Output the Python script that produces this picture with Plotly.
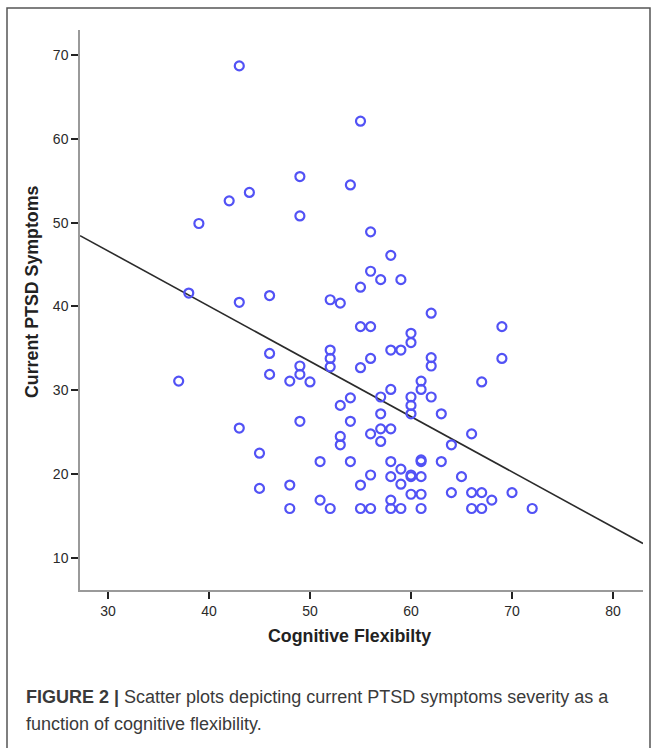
import plotly.graph_objects as go

# Data
cognitive_flexibility = [
    43, 55, 49, 54, 44, 42, 49, 39, 56, 58, 56, 57, 59, 55, 38, 46, 43, 52, 53, 62,
    55, 56, 69, 60, 60, 52, 58, 59, 46, 52, 56, 62, 69, 52, 55, 62, 49, 49, 46, 37,
    48, 50, 61, 67, 61, 58, 54, 57, 60, 62, 53, 60, 57, 60, 63, 49, 54, 43, 57, 58,
    56, 66, 53, 53, 57, 64, 45, 51, 54, 58, 61, 61, 63, 59, 56, 58, 60, 60, 61, 65,
    45, 48, 55, 59, 60, 61, 64, 66, 67, 70, 51, 58, 68, 48, 52, 55, 56, 58, 59, 61,
    66, 67, 72,
]
ptsd_symptoms = [
    68.7, 62.1, 55.5, 54.5, 53.6, 52.6, 50.8, 49.9, 48.9, 46.1, 44.2, 43.2, 43.2, 42.3, 41.6, 41.3, 40.5, 40.8, 40.4, 39.2,
    37.6, 37.6, 37.6, 36.8, 35.7, 34.8, 34.8, 34.8, 34.4, 33.8, 33.8, 33.9, 33.8, 32.8, 32.7, 32.9, 32.9, 31.9, 31.9, 31.1,
    31.1, 31.0, 31.1, 31.0, 30.1, 30.1, 29.1, 29.2, 29.2, 29.2, 28.2, 28.2, 27.2, 27.2, 27.2, 26.3, 26.3, 25.5, 25.4, 25.4,
    24.8, 24.8, 24.5, 23.5, 23.9, 23.5, 22.5, 21.5, 21.5, 21.5, 21.5, 21.7, 21.5, 20.6, 19.9, 19.7, 19.9, 19.7, 19.7, 19.7,
    18.3, 18.7, 18.7, 18.8, 17.6, 17.6, 17.8, 17.8, 17.8, 17.8, 16.9, 16.9, 16.9, 15.9, 15.9, 15.9, 15.9, 15.9, 15.9, 15.9,
    15.9, 15.9, 15.9,
]
x_ticks = [30, 40, 50, 60, 70, 80]
y_ticks = [10, 20, 30, 40, 50, 60, 70]
x_range = [27.23, 82.97]
y_range = [6.18, 72.98]
fit_intercept = 66.4
fit_slope = -0.659

fit_x = list(x_range)
fit_y = [fit_intercept + fit_slope * v for v in fit_x]

fig = go.Figure()
fig.add_trace(go.Scatter(
    x=fit_x, y=fit_y, mode="lines",
    line=dict(color="#2b2b2b", width=1.6),
    hoverinfo="skip", showlegend=False,
))
fig.add_trace(go.Scatter(
    x=cognitive_flexibility, y=ptsd_symptoms, mode="markers",
    marker=dict(symbol="circle-open", size=9, color="#5252f5",
                line=dict(width=2.2, color="#5252f5")),
    showlegend=False,
))

axis_font = dict(family="Liberation Sans, Arial, sans-serif", size=14, color="#2a2a2a")
fig.update_xaxes(
    range=x_range, tickvals=x_ticks, ticktext=[str(t) for t in x_ticks],
    showgrid=False, zeroline=False, showline=True, linecolor="#9a9a9a", linewidth=1.5,
    ticks="outside", ticklen=7, tickwidth=2, tickcolor="#222222",
    tickfont=axis_font, mirror=False,
)
fig.update_yaxes(
    range=y_range, tickvals=y_ticks, ticktext=[str(t) for t in y_ticks],
    showgrid=False, zeroline=False, showline=True, linecolor="#9a9a9a", linewidth=1.5,
    ticks="outside", ticklen=7, tickwidth=2, tickcolor="#222222",
    tickfont=axis_font, mirror=False,
)

title_font = dict(family="Liberation Sans, Arial, sans-serif", size=17.8, color="#222222")
caption_font = dict(family="Liberation Sans, Arial, sans-serif", size=18, color="#3a3a3a")
annotations = [
    dict(text="<b>Cognitive Flexibilty</b>", xref="paper", yref="paper",
         x=(349 - 80) / 563, y=(590 - 636) / 560, xanchor="center", yanchor="middle",
         showarrow=False, font=title_font),
    dict(text="<b>Current PTSD Symptoms</b>", xref="paper", yref="paper",
         x=(32 - 80) / 563, y=(590 - 292) / 560, xanchor="center", yanchor="middle",
         textangle=-90, showarrow=False, font=title_font),
    dict(text="<b>FIGURE 2 |</b> Scatter plots depicting current PTSD symptoms severity as a",
         xref="paper", yref="paper", x=(24 - 80) / 563, y=(590 - 697) / 560,
         xanchor="left", yanchor="middle", align="left", showarrow=False,
         font=caption_font),
    dict(text="function of cognitive flexibility.",
         xref="paper", yref="paper", x=(24 - 80) / 563, y=(590 - 724) / 560,
         xanchor="left", yanchor="middle", align="left", showarrow=False,
         font=caption_font),
]

fig.add_shape(type="rect", xref="paper", yref="paper",
              x0=(7 - 80) / 563, x1=(650 - 80) / 563,
              y0=(590 - 760) / 560, y1=(590 - 8) / 560,
              line=dict(color="#555555", width=1.5), fillcolor="rgba(0,0,0,0)", layer="below")

fig.update_layout(
    width=657, height=748,
    margin=dict(l=80, r=14, t=30, b=158),
    paper_bgcolor="white", plot_bgcolor="white",
    annotations=annotations,
    showlegend=False,
)

fig.write_html(
    "out.html",
    config={"displayModeBar": False},
    post_script="document.body.style.margin='0';document.body.style.padding='0';document.body.style.overflow='hidden';",
)
